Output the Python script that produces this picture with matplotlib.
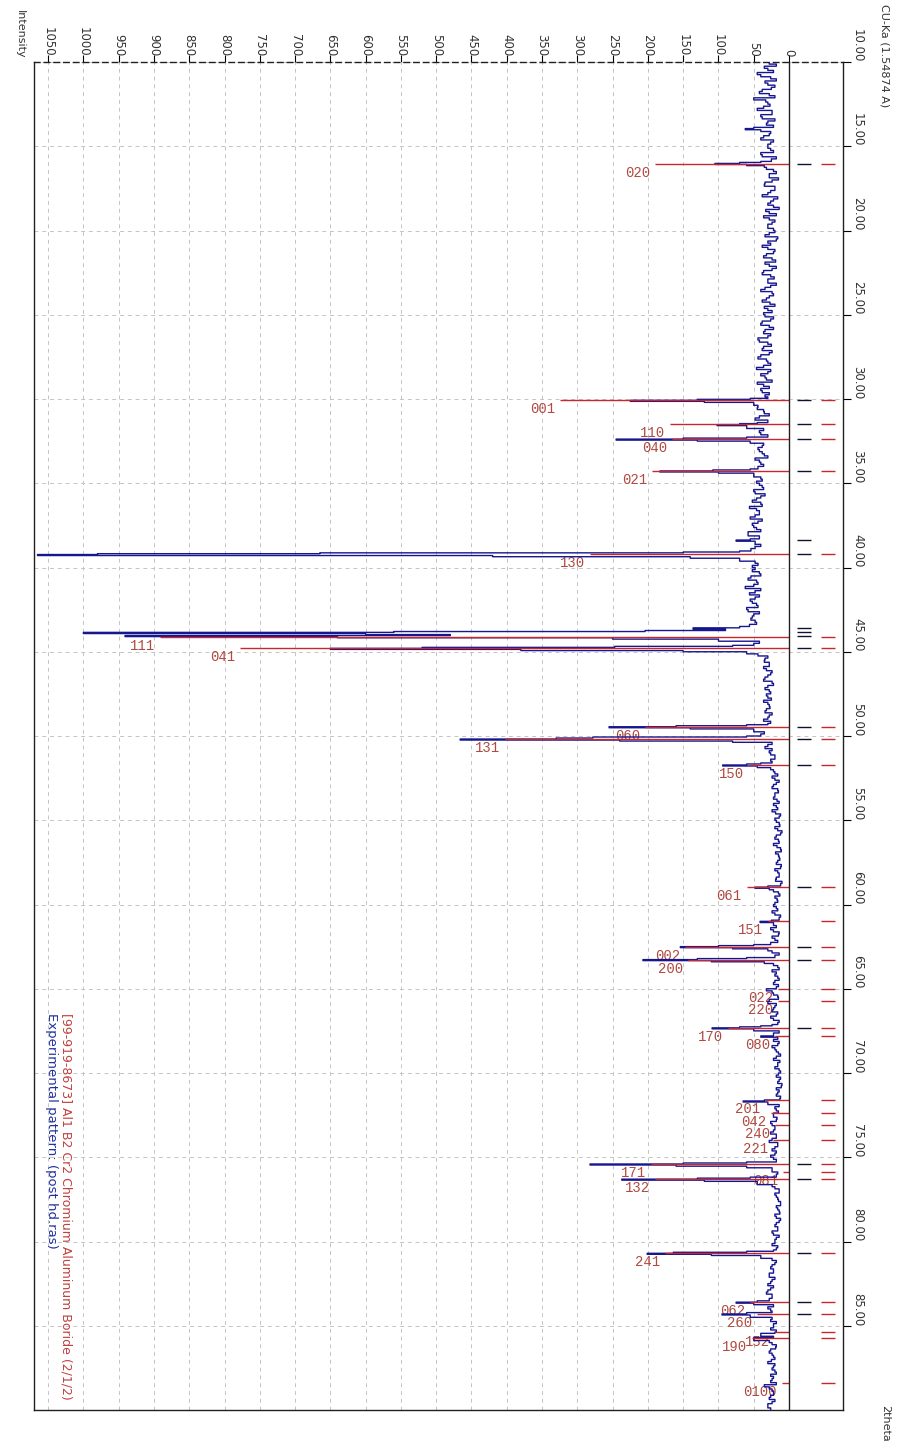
import numpy as np
import matplotlib
matplotlib.use('Agg')
import matplotlib.pyplot as plt
from matplotlib.transforms import blended_transform_factory

# experimental background, read every 0.25 deg (10.00 ... 90.00)
base_int = [
    28, 35, 22, 40, 18, 30, 25, 42, 20, 33, 27, 45, 24, 38, 30, 22, 35, 28, 40, 26,
    30, 22, 38, 25, 20, 32, 18, 28, 24, 35, 20, 30, 16, 26, 22, 33, 18, 28, 24, 30,
    20, 34, 18, 26, 30, 22, 36, 19, 28, 24, 38, 21, 30, 26, 40, 22, 32, 27, 35, 24,
    34, 26, 40, 22, 36, 30, 42, 25, 38, 28, 44, 30, 36, 26, 40, 32, 45, 28, 38, 34,
    40, 32, 45, 35, 42, 30, 48, 36, 40, 34, 46, 38, 42, 35, 48, 40, 44, 36, 50, 38,
    42, 36, 48, 40, 52, 38, 46, 42, 55, 44, 50, 40, 58, 45, 52, 48, 56, 46, 50, 44,
    48, 42, 54, 46, 50, 40, 56, 48, 52, 44, 58, 50, 54, 46, 60, 52, 48, 44, 50, 40,
    38, 30, 35, 28, 32, 26, 34, 24, 30, 28, 32, 25, 30, 27, 34, 28, 36, 30, 38, 35,
    32, 28, 30, 24, 26, 20, 24, 18, 22, 16, 20, 18, 24, 15, 20, 17, 22, 16, 19, 14,
    18, 13, 16, 12, 20, 14, 17, 11, 15, 13, 18, 12, 16, 14, 19, 12, 17, 15, 20, 16,
    22, 16, 20, 14, 24, 18, 22, 15, 20, 26, 18, 24, 20, 16, 22, 14, 18, 16, 20, 15,
    18, 22, 15, 26, 20, 24, 18, 22, 16, 20, 14, 18, 22, 16, 20, 15, 18, 13, 16, 14,
    15, 12, 16, 11, 14, 18, 13, 16, 20, 15, 22, 18, 24, 20, 26, 18, 22, 16, 24, 20,
    22, 26, 20, 24, 18, 22, 16, 20, 14, 18, 15, 12, 16, 13, 18, 14, 20, 16, 22, 18,
    20, 16, 22, 18, 24, 20, 26, 22, 28, 24, 30, 26, 32, 24, 28, 22, 26, 20, 24, 18,
    22, 18, 26, 20, 24, 19, 28, 22, 25, 20, 24, 18, 22, 26, 20, 24, 22, 28, 24, 30,
    26,
]
# background in between (10.125 ... 89.875)
base_int_mid = [
    18, 30, 45, 26, 34, 20, 38, 28, 50, 30, 36, 24, 40, 20, 32, 44, 26, 36, 22, 30,
    26, 40, 18, 30, 36, 22, 28, 15, 34, 20, 26, 38, 22, 30, 14, 28, 36, 20, 30, 22,
    28, 16, 30, 38, 20, 32, 24, 34, 18, 36, 26, 30, 18, 34, 24, 28, 38, 20, 30, 36,
    22, 38, 28, 34, 26, 44, 30, 36, 24, 40, 32, 26, 46, 30, 34, 24, 36, 40, 28, 30,
    30, 44, 36, 28, 48, 38, 34, 42, 30, 50, 36, 44, 38, 30, 42, 36, 52, 34, 40, 46,
    38, 50, 34, 46, 40, 56, 42, 48, 38, 52, 46, 58, 42, 50, 40, 54, 44, 60, 48, 52,
    52, 40, 58, 44, 62, 48, 42, 55, 46, 60, 42, 52, 48, 56, 44, 50, 56, 42, 46, 52,
    44, 34, 28, 36, 24, 30, 36, 22, 34, 26, 30, 36, 28, 32, 24, 30, 26, 34, 32, 40,
    36, 24, 34, 28, 20, 26, 18, 26, 20, 24, 14, 22, 16, 20, 22, 14, 18, 24, 12, 20,
    14, 20, 10, 18, 15, 22, 12, 19, 14, 16, 11, 20, 14, 18, 10, 16, 22, 13, 17, 20,
    18, 24, 12, 22, 18, 26, 14, 24, 16, 22, 20, 14, 26, 18, 16, 24, 20, 14, 22, 18,
    24, 16, 28, 18, 22, 16, 26, 14, 24, 18, 22, 16, 14, 24, 18, 12, 22, 16, 20, 12,
    18, 14, 10, 18, 16, 12, 20, 14, 18, 22, 17, 26, 20, 22, 18, 24, 16, 20, 18, 26,
    18, 20, 24, 16, 22, 18, 24, 14, 20, 16, 12, 18, 14, 20, 12, 18, 16, 24, 14, 20,
    24, 18, 20, 26, 18, 24, 22, 28, 20, 26, 22, 30, 24, 28, 20, 30, 24, 22, 26, 22,
    26, 20, 22, 28, 18, 26, 24, 20, 30, 22, 20, 26, 24, 18, 28, 22, 26, 20, 30, 26,
]

# experimental peaks (2theta, counts)
peak_theta = [
    13.88, 13.95, 14.02,
    15.90, 15.96, 16.02, 16.08, 16.15,
    29.96, 30.02, 30.08, 30.14, 30.20,
    31.40, 31.46, 31.52, 31.58,
    32.26, 32.32, 32.38, 32.44, 32.50,
    34.15, 34.21, 34.27, 34.33, 34.40,
    38.30, 38.37, 38.44,
    39.02, 39.08, 39.13, 39.18, 39.23, 39.29, 39.36, 39.45,
    43.50, 43.58, 43.66, 43.74, 43.80, 43.85, 43.92, 43.98, 44.04, 44.10, 44.17, 44.25,
    44.62, 44.68, 44.74, 44.80, 44.86, 44.93, 45.00,
    49.33, 49.39, 49.45, 49.51, 49.58,
    50.00, 50.06, 50.12, 50.18, 50.24, 50.30,
    51.60, 51.66, 51.72, 51.78,
    58.90, 58.97, 59.04,
    60.93, 61.00, 61.07,
    62.38, 62.44, 62.50, 62.56, 62.63,
    63.15, 63.21, 63.27, 63.33, 63.40,
    65.00, 65.75,
    67.20, 67.26, 67.32, 67.38, 67.80,
    71.60, 71.66, 71.72, 74.00,
    75.28, 75.34, 75.40, 75.46, 75.53,
    76.18, 76.24, 76.30, 76.36, 76.43,
    80.58, 80.64, 80.70, 80.76, 80.83,
    83.52, 83.60, 83.66, 84.22, 84.30, 84.36,
    85.45, 85.70, 88.50,
]
peak_int = [
    50, 62, 40,
    40, 70, 105, 60, 35,
    55, 130, 225, 120, 50,
    45, 70, 102, 60,
    60, 150, 245, 130, 55,
    55, 108, 183, 100, 50,
    55, 75, 48,
    70, 150, 665, 980, 1065, 420, 140, 70,
    70, 136, 90, 204, 560, 1000, 600, 480, 941, 640, 250, 100,
    80, 247, 520, 650, 380, 150, 60,
    60, 160, 255, 140, 50,
    60, 278, 330, 466, 240, 80,
    40, 60, 94, 45,
    30, 48, 28,
    25, 41, 22,
    50, 100, 154, 80, 30,
    60, 130, 207, 110, 35,
    32, 30,
    40, 70, 109, 50, 40,
    35, 65, 30, 28,
    60, 150, 282, 160, 60,
    55, 130, 237, 120, 45,
    60, 164, 201, 110, 40,
    45, 75, 50, 60, 95, 55,
    40, 50, 35,
]

# reference pattern [99-919-8673] Al1 B2 Cr2
ref_theta = [16.03, 30.08, 31.50, 32.38, 34.27, 39.20, 44.10, 44.78, 49.45, 50.18,
             51.70, 58.97, 61.00, 62.50, 63.27, 65.00, 65.75, 67.30, 67.80, 71.60,
             72.35, 73.10, 73.97, 75.40, 75.90, 76.30, 80.70, 83.60, 84.30,
             85.40, 85.70, 88.40]
ref_int = [190, 325, 169, 166, 194, 282, 891, 778, 204, 402,
           57, 60, 30, 147, 143, 15, 15, 86, 20, 34,
           25, 20, 23, 195, 8, 190, 176, 55, 45,
           20, 52, 10]
ref_hkl = ['020', '001', '110', '040', '021', '130', '111', '041', '060', '131',
           '150', '061', '151', '002', '200', '022', '220', '170', '080', '201',
           '042', '240', '221', '171', '081', '132', '241', '062', '260',
           '152', '190', '0100']

# peak positions found in the experimental scan
found_theta = [16.03, 30.08, 31.50, 32.38, 34.27, 38.37, 39.20, 43.58, 43.85, 44.04,
               44.80, 49.45, 50.18, 51.72, 58.97, 62.50, 63.27, 67.32, 75.40, 76.30,
               80.70, 83.60, 84.30]

tt_ticks = list(range(10, 90, 5))
int_ticks = list(range(0, 1051, 50))

navy = '#16168e'
red = '#c8282d'
lab_red = '#b04a40'

fig = plt.figure(figsize=(9, 14.41), dpi=100)
ax = fig.add_axes([34 / 900, 1 - 1410 / 1441, (843 - 34) / 900, (1410 - 62) / 1441])
ax.set_xlim(1070, -76.5)
ax.set_ylim(90, 10)

# merge both background passes with the peaks
bt = np.concatenate([10.0 + 0.25 * np.arange(len(base_int)),
                     10.125 + 0.25 * np.arange(len(base_int_mid))])
bi = np.concatenate([base_int, base_int_mid])
keep = np.array([min(abs(t - p) for p in peak_theta) > 0.07 for t in bt])
all_t = np.concatenate([bt[keep], peak_theta])
all_i = np.concatenate([bi[keep], peak_int])
order = np.argsort(all_t)
ax.plot(all_i[order], all_t[order], drawstyle='steps-pre', color=navy, lw=1.0,
        zorder=3)

# reference sticks and their hkl labels
ax.hlines(ref_theta, 0, ref_int, color=red, lw=1.0, zorder=4)
for t, v, h in zip(ref_theta, ref_int, ref_hkl):
    ax.text(v + 7, t + 0.12, h, color=lab_red, fontsize=10, ha='right', va='top',
            family='Liberation Mono', zorder=2.5)

# peak markers under the zero line
ax.hlines(found_theta, -11, -31, color='#101030', lw=1.0)
ax.hlines(ref_theta, -45, -65, color=red, lw=1.0)
ax.axvline(0, color='#202020', lw=1.0, zorder=4)

# grid, ticks, frame
ax.set_xticks(int_ticks)
ax.set_yticks(tt_ticks)
ax.set_xticklabels([])
ax.set_yticklabels([])
ax.xaxis.tick_top()
ax.yaxis.tick_right()
ax.tick_params(axis='x', direction='out', length=5, width=0.8)
ax.tick_params(axis='y', direction='out', length=6, width=0.8)
ax.grid(True, color='#c4c4c4', linestyle=(0, (4, 4)), lw=0.7, zorder=0)
ax.spines['top'].set_linestyle((0, (4, 3)))
for s in ax.spines.values():
    s.set_linewidth(1.0)
    s.set_color('#202020')

tx = blended_transform_factory(ax.transData, ax.transAxes)
for v in int_ticks:
    ax.text(v, 1.004, str(v), transform=tx, rotation=-90, ha='center',
            va='bottom', fontsize=8.5, color='#333333')
ty = blended_transform_factory(ax.transAxes, ax.transData)
for t in tt_ticks:
    ax.text(1.01, t, f'{t:.2f}', transform=ty, rotation=-90, ha='left',
            va='bottom', fontsize=8.5, color='#333333')

fig.text(15 / 900, 1 - 10 / 1441, 'Intensity', rotation=-90, ha='left', va='top',
         fontsize=8, color='#333333')
fig.text(880 / 900, 1 - 4 / 1441, 'CU-Ka (1.54874 A)', rotation=-90, ha='left',
         va='top', fontsize=8, color='#333333')
fig.text(880 / 900, 1 - 1405 / 1441, '2theta', rotation=-90, ha='left',
         va='top', fontsize=8, color='#333333')

# legend texts
ax.text(0.013, 0.2945, 'Experimental pattern: (post hd.ras)', transform=ax.transAxes,
        rotation=-90, ha='left', va='top', fontsize=9.5, color='#2030a0')
ax.text(0.032, 0.2945, '[99-919-8673] Al1 B2 Cr2 Chromium Aluminum Boride (2/1/2)',
        transform=ax.transAxes, rotation=-90, ha='left', va='top', fontsize=9,
        color='#c04040')

fig.savefig('out.png', dpi=100)
